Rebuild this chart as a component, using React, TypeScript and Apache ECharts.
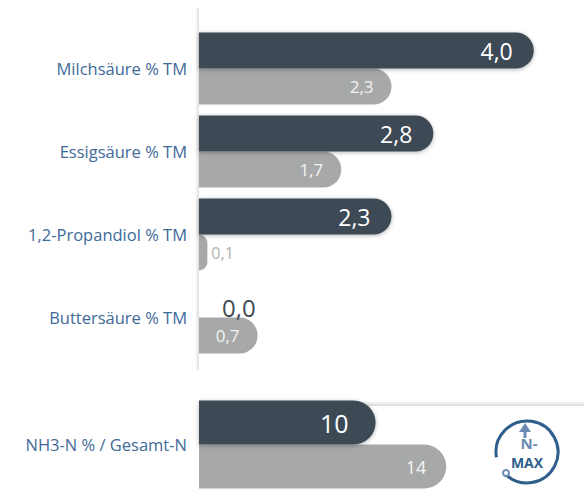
import React, { useEffect, useRef } from "react";
import * as echarts from "echarts";

const categories = ["Milchsäure % TM", "Essigsäure % TM", "1,2-Propandiol % TM", "Buttersäure % TM"];
const darkValues = [4.0, 2.8, 2.3, 0.0];
const grayValues = [2.3, 1.7, 0.1, 0.7];
const nh3Categories = ["NH3-N % / Gesamt-N"];
const nh3Dark = [10];
const nh3Gray = [14];

const DARK = "#3e4a54";
const GRAY = "#a7a8a8";
const LABEL_BLUE = "#3e6a98";
const LOGO_BLUE = "#2f5f8c";
const LOGO_LIGHT = "#6a8bb3";
const FONT = "'Open Sans', 'Noto Sans', sans-serif";

const fmt1 = (v: number) => v.toFixed(1).replace(".", ",");

export default function App() {
  const ref = useRef<HTMLDivElement>(null);
  useEffect(() => {
    document.body.style.margin = "0";
    const chart = echarts.init(ref.current!, null, { renderer: "svg" });
    const darkData = darkValues.map((v) => {
      if (v < 0.3) {
        return {
          value: v,
          label: { position: "right", distance: 23, offset: [0, 8], color: DARK, fontSize: 24 },
        };
      }
      return { value: v };
    });
    const grayData = grayValues.map((v) => {
      if (v < 0.3) {
        return {
          value: v,
          label: { position: "right", distance: 4, color: "#b0b0b0", fontSize: 16 },
        };
      }
      return { value: v };
    });
    chart.setOption({
      animation: false,
      textStyle: { fontFamily: FONT },
      grid: [
        { left: 199, right: 0, top: 27, height: 332, containLabel: false },
        { left: 199, right: 0, top: 400, height: 102, containLabel: false },
      ],
      xAxis: [
        { type: "value", gridIndex: 0, min: 0, max: 4.6, show: false },
        { type: "value", gridIndex: 1, min: 0, max: 21.8, show: false },
      ],
      yAxis: [
        {
          type: "category",
          gridIndex: 0,
          data: categories,
          inverse: true,
          axisLine: { show: false },
          axisTick: { show: false },
          axisLabel: { color: LABEL_BLUE, fontSize: 16.5, margin: 12, fontFamily: FONT },
        },
        {
          type: "category",
          gridIndex: 1,
          data: nh3Categories,
          inverse: true,
          axisLine: { show: false },
          axisTick: { show: false },
          axisLabel: { color: LABEL_BLUE, fontSize: 16.5, margin: 12, fontFamily: FONT, padding: [0, 0, 10, 0] },
        },
      ],
      graphic: [
        {
          type: "rect",
          shape: { x: 195, y: 8, width: 4, height: 362 },
          style: {
            fill: new echarts.graphic.LinearGradient(0, 0, 1, 0, [
              { offset: 0, color: "rgba(0,0,0,0)" },
              { offset: 1, color: "rgba(0,0,0,0.13)" },
            ]),
          },
          z: 0,
        },
        {
          type: "rect",
          shape: { x: 230, y: 401, width: 354, height: 5 },
          style: {
            fill: new echarts.graphic.LinearGradient(0, 0, 0, 1, [
              { offset: 0, color: "rgba(0,0,0,0)" },
              { offset: 1, color: "rgba(0,0,0,0.15)" },
            ]),
          },
          z: 0,
        },
        {
          type: "arc",
          shape: { cx: 527, cy: 452, r: 31, startAngle: (170 * Math.PI) / 180, endAngle: ((135 + 360) * Math.PI) / 180, clockwise: true },
          style: { stroke: LOGO_BLUE, lineWidth: 3, fill: "none" },
          z: 10,
        },
        {
          type: "circle",
          shape: { cx: 506, cy: 473, r: 3 },
          style: { stroke: LOGO_LIGHT, lineWidth: 2, fill: "#fff" },
          z: 10,
        },
        {
          type: "line",
          shape: { x1: 525, y1: 438, x2: 525, y2: 430 },
          style: { stroke: LOGO_LIGHT, lineWidth: 3 },
          z: 10,
        },
        {
          type: "polygon",
          shape: { points: [[519, 432], [525, 423], [531, 432]] },
          style: { fill: LOGO_LIGHT },
          z: 10,
        },
        {
          type: "text",
          x: 529,
          y: 443,
          style: { text: "N-", fill: LOGO_LIGHT, font: "bold 15px 'Open Sans', sans-serif", textAlign: "center", textVerticalAlign: "middle" },
          z: 10,
        },
        {
          type: "text",
          x: 527,
          y: 462,
          style: { text: "MAX", fill: LOGO_BLUE, font: "bold 14px 'Open Sans', sans-serif", textAlign: "center", textVerticalAlign: "middle" },
          z: 10,
        },
      ],
      series: [
        {
          type: "bar",
          xAxisIndex: 0,
          yAxisIndex: 0,
          data: darkData,
          barWidth: 36,
          barGap: "0%",
          z: 3,
          itemStyle: {
            color: DARK,
            borderRadius: [0, 18, 18, 0],
            shadowBlur: 4,
            shadowColor: "rgba(0,0,0,0.3)",
            shadowOffsetY: 1,
          },
          label: {
            show: true,
            position: "insideRight",
            distance: 21,
            color: "#ffffff",
            fontSize: 23,
            fontFamily: FONT,
            formatter: (p: any) => fmt1(p.value),
          },
        },
        {
          type: "bar",
          xAxisIndex: 0,
          yAxisIndex: 0,
          data: grayData,
          barWidth: 36,
          barGap: "0%",
          z: 2,
          itemStyle: { color: GRAY, borderRadius: [0, 18, 18, 0] },
          label: {
            show: true,
            position: "insideRight",
            distance: 18,
            color: "#f4f4f4",
            fontSize: 17,
            fontFamily: FONT,
            formatter: (p: any) => fmt1(p.value),
          },
        },
        {
          type: "bar",
          xAxisIndex: 1,
          yAxisIndex: 1,
          data: nh3Dark,
          barWidth: 44,
          barGap: "0%",
          z: 3,
          itemStyle: {
            color: DARK,
            borderRadius: [0, 22, 22, 0],
            shadowBlur: 4,
            shadowColor: "rgba(0,0,0,0.3)",
            shadowOffsetY: 1,
          },
          label: {
            show: true,
            position: "insideRight",
            distance: 27,
            color: "#ffffff",
            fontSize: 25,
            fontFamily: FONT,
            formatter: (p: any) => String(p.value),
          },
        },
        {
          type: "bar",
          xAxisIndex: 1,
          yAxisIndex: 1,
          data: nh3Gray,
          barWidth: 44,
          barGap: "0%",
          z: 2,
          itemStyle: { color: GRAY, borderRadius: [0, 22, 22, 0] },
          label: {
            show: true,
            position: "insideRight",
            distance: 20,
            color: "#f4f4f4",
            fontSize: 18,
            fontFamily: FONT,
            formatter: (p: any) => String(p.value),
          },
        },
      ],
    });
    return () => chart.dispose();
  }, []);
  return <div ref={ref} style={{ width: 584, height: 489 }} />;
}
